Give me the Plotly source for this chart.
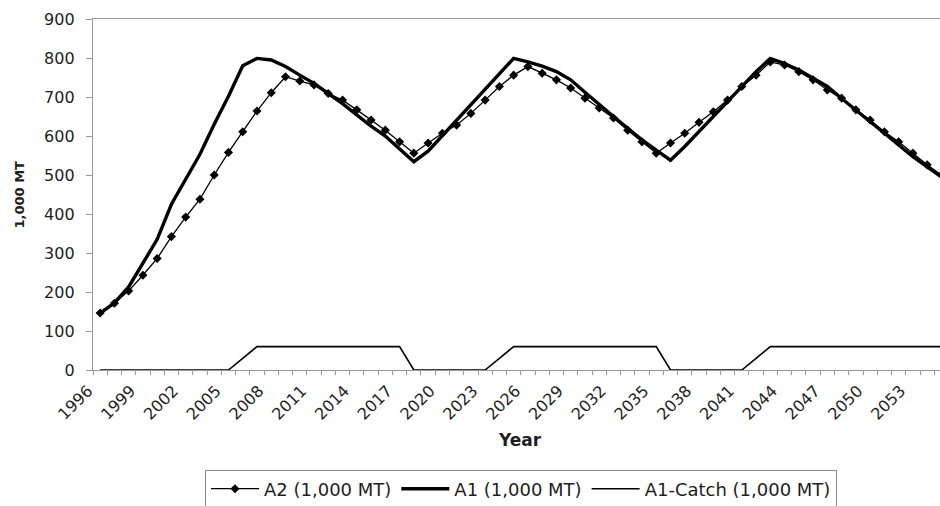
import plotly.graph_objects as go

years = list(range(1996, 2056))

a2 = [146, 171, 203, 243, 286, 342, 392, 438, 500, 558,
      611, 664, 711, 752, 741, 731, 709, 692, 667, 641,
      615, 585, 556, 582, 607, 628, 658, 692, 727, 756,
      778, 761, 744, 723, 697, 672, 646, 615, 585, 556,
      582, 607, 635, 662, 692, 727, 756, 790, 782, 765,
      744, 718, 697, 667, 641, 611, 585, 556, 526, 500]

a1 = [146, 172, 213, 272, 335, 425, 487, 553, 630, 702,
      780, 799, 795, 778, 756, 735, 709, 683, 654, 625,
      600, 568, 534, 561, 601, 640, 679, 719, 758, 799,
      790, 779, 765, 744, 712, 680, 650, 620, 590, 564,
      538, 573, 611, 650, 688, 727, 765, 799, 786, 769,
      748, 727, 696, 667, 637, 607, 577, 547, 521, 495]

catch = [0, 0, 0, 0, 0, 0, 0, 0, 0, 0,
         30, 60, 60, 60, 60, 60, 60, 60, 60, 60,
         60, 60, 0, 0, 0, 0, 0, 0, 30, 60,
         60, 60, 60, 60, 60, 60, 60, 60, 60, 60,
         0, 0, 0, 0, 0, 0, 30, 60, 60, 60,
         60, 60, 60, 60, 60, 60, 60, 60, 60, 60]

label_years = list(range(1996, 2054, 3))
y_ticks = list(range(0, 901, 100))

# category boundaries (Excel style: ticks between categories, label at left boundary)
boundaries = [y - 0.5 for y in years]
boundary_text = [str(y) if y in label_years else "" for y in years]

FONT = "DejaVu Sans"
AXIS_GRAY = "#9a9a9a"
TXT = "#1e1e1e"

# plot area in pixels: x 93..940, y 19..370
PL, PR, PT, PB = 93, 940, 19, 370

fig = go.Figure()
fig.add_trace(go.Scatter(
    x=years, y=a2, name="A2 (1,000 MT)", mode="lines+markers",
    line=dict(color="#000000", width=1.3),
    marker=dict(symbol="diamond", size=7, color="#000000"),
))
fig.add_trace(go.Scatter(
    x=years, y=a1, name="A1 (1,000 MT)", mode="lines",
    line=dict(color="#000000", width=3.4),
))
fig.add_trace(go.Scatter(
    x=years, y=catch, name="A1-Catch (1,000 MT)", mode="lines",
    line=dict(color="#000000", width=1.6),
))

fig.update_layout(
    width=940, height=506,
    margin=dict(l=PL, r=940 - PR, t=PT, b=506 - PB, autoexpand=False),
    paper_bgcolor="white", plot_bgcolor="white",
    font=dict(family=FONT, size=15, color=TXT),
    showlegend=True,
    legend=dict(
        orientation="h", xref="container", yref="container",
        x=521 / 940, xanchor="center", y=(506 - 489) / 506, yanchor="middle",
        bordercolor="#8a8a8a", borderwidth=1, bgcolor="white",
        font=dict(family=FONT, size=18, color=TXT),
        itemwidth=48,
    ),
    annotations=[
        dict(text="<b>Year</b>", xref="paper", yref="paper",
             x=(520 - PL) / (PR - PL), y=(PB - 440) / (PB - PT),
             xanchor="center", yanchor="middle",
             showarrow=False, font=dict(family=FONT, size=17, color=TXT)),
        dict(text="<b>1,000 MT</b>", xref="paper", yref="paper",
             x=(19 - PL) / (PR - PL), y=0.5, xanchor="center", yanchor="middle",
             textangle=-90,
             showarrow=False, font=dict(family=FONT, size=13, color=TXT)),
    ],
)

fig.update_xaxes(
    range=[1995.5, 2054.9], automargin=False,
    tickmode="array", tickvals=boundaries, ticktext=boundary_text,
    tickangle=-45, ticks="outside", ticklen=4, tickcolor=AXIS_GRAY, tickwidth=1,
    showgrid=False, zeroline=False,
    showline=True, linecolor=AXIS_GRAY, linewidth=1.3, mirror=True,
    tickfont=dict(family=FONT, size=16, color=TXT),
    ticklabelshift=-5,
)
fig.update_yaxes(
    range=[0, 900], tickmode="array", tickvals=y_ticks, automargin=False,
    ticks="outside", ticklen=6, tickcolor=AXIS_GRAY,
    showgrid=False, zeroline=False,
    showline=True, linecolor=AXIS_GRAY, linewidth=1.3,
    tickfont=dict(family=FONT, size=16, color=TXT),
    ticklabelstandoff=8,
)

fig.write_html(
    "out.html",
    config={"displayModeBar": False},
    post_script="document.body.style.margin='0';document.body.style.overflow='hidden';",
)
